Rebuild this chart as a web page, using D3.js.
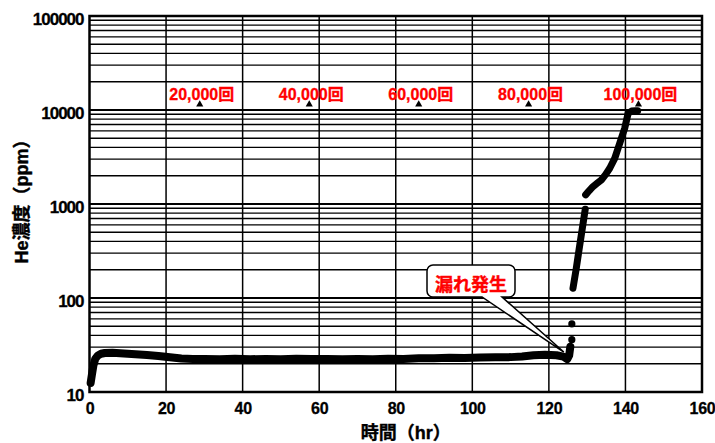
<!DOCTYPE html>
<html><head><meta charset="utf-8">
<script src="https://cdn.jsdelivr.net/npm/d3@7"></script>
<style>
body{margin:0;background:#fff}
svg{display:block}
text{font-family:"Liberation Sans",Arial,"Noto Sans CJK JP",sans-serif;font-weight:bold}
</style>
</head><body><svg id="c" width="715" height="443"></svg>
<script>
// ---- data ----
const mainTime = [0.3,0.6,1.0,1.5,2.2,3,4,6,9,12,15,18,21,24,27,30,34,38,42,46,50,54,58,62,66,70,74,78,82,86,90,94,98,102,106,110,113,116,119,122,123.8,124.8,125.3,125.6];
const mainHe   = [12.5,15,19,22.5,24.5,25.5,26,26.2,25.7,25.2,24.8,24.2,23.4,22.7,22.4,22.5,22.3,22.6,22.3,22.5,22.3,22.6,22.4,22.5,22.3,22.4,22.3,22.6,22.5,22.8,22.9,23.1,23.0,23.3,23.4,23.5,23.9,24.6,24.9,24.6,23.8,22.4,24.5,30.3];
const dotTime = [126.0,126.0];
const dotHe   = [36,53];
const riseTime = [126.3,127.1,127.9,128.7,129.5];
const riseHe   = [127,200,330,540,880];
const upperTime = [129.6,130.5,131.5,132.6,133.7,134.8,135.9,137.2,138.5,139.8,140.7,141.6,142.6,143.2];
const upperHe   = [1250,1380,1530,1660,1800,2050,2400,3060,4420,6380,9200,9750,9800,9800];
const cycleLabels = ["20,000回","40,000回","60,000回","80,000回","100,000回"];
const cycleTime = [28.8,57.4,86.0,114.7,143.4];
const cycleHe   = [11600,11600,11600,11600,11600];
const leakLabel = "漏れ発生";
const leakTime = 123.9, leakHe = 26.6;
const xTicks = [0,20,40,60,80,100,120,140,160];
const yTicks = [10,100,1000,10000,100000];
const xTitle = "時間（hr）";
const yTitle = "He濃度（ppm）";

// ---- chart ----
const svg = d3.select("#c");
const x = d3.scaleLinear().domain([0,160]).range([89.5,702]);
const y = d3.scaleLog().domain([10,100000]).range([392,16]);

const grid = svg.append("g");
grid.selectAll("line.v").data(xTicks.filter(t=>t>0&&t<160)).join("line")
  .attr("x1",d=>x(d)).attr("x2",d=>x(d)).attr("y1",y(100000)).attr("y2",y(10))
  .attr("stroke","#000").attr("stroke-width",1.5);
grid.selectAll("line.h").data(y.ticks().filter(v=>v>10&&v<100000)).join("line")
  .attr("x1",x(0)).attr("x2",x(160)).attr("y1",d=>y(d)).attr("y2",d=>y(d))
  .attr("stroke","#000").attr("stroke-width",d=>yTicks.includes(d)?1.8:1.4);

// axes labels
const ya = svg.append("g").attr("transform",`translate(${x(0)},0)`)
  .call(d3.axisLeft(y).tickValues(yTicks).tickFormat(d3.format("d")).tickSize(0).tickPadding(6));
ya.select(".domain").remove();
ya.selectAll("text").attr("font-size",17).attr("letter-spacing","-1px").attr("dy","0.5em")
  .style("font-family","'Liberation Sans',Arial,sans-serif").style("font-weight","bold")
  .attr("fill","#000").attr("stroke","#000").attr("stroke-width",0.3);

const xa = svg.append("g").attr("transform",`translate(0,${y(10)})`)
  .call(d3.axisBottom(x).tickValues(xTicks).tickSize(0).tickPadding(10.5));
xa.select(".domain").remove();
xa.selectAll("text").attr("font-size",16).attr("letter-spacing","-0.3px")
  .style("font-family","'Liberation Sans',Arial,sans-serif").style("font-weight","bold")
  .attr("fill","#000").attr("stroke","#000").attr("stroke-width",0.3);

// titles
svg.append("text").attr("x",(x(0)+x(160))/2+10).attr("y",439).attr("text-anchor","middle")
  .attr("font-size",18).attr("stroke","#000").attr("stroke-width",0.4).text(xTitle);
svg.append("text").attr("transform","translate(28,197) rotate(-90)").attr("text-anchor","middle")
  .attr("font-size",18).attr("stroke","#000").attr("stroke-width",0.4).text(yTitle);

// data lines
const line = d3.line().x(d=>x(d[0])).y(d=>y(d[1])).curve(d3.curveLinear);
const lineStyle = s => s.attr("fill","none").attr("stroke","#000").attr("stroke-linecap","round").attr("stroke-linejoin","round");
svg.append("path").datum(d3.zip(mainTime,mainHe)).attr("d",line).call(lineStyle).attr("stroke-width",8);
svg.append("path").datum(d3.zip(riseTime,riseHe)).attr("d",line).call(lineStyle).attr("stroke-width",7);
svg.append("path").datum(d3.zip(upperTime,upperHe)).attr("d",line).call(lineStyle).attr("stroke-width",7);
svg.selectAll("circle.dot").data(d3.zip(dotTime,dotHe)).join("circle")
  .attr("cx",d=>x(d[0])).attr("cy",d=>y(d[1])).attr("r",3.6).attr("fill","#000");

// frame
svg.append("rect").attr("x",x(0)).attr("y",y(100000)).attr("width",x(160)-x(0)).attr("height",y(10)-y(100000))
  .attr("fill","none").attr("stroke","#000").attr("stroke-width",2.5);

// cycle markers and labels
const cyc = d3.zip(cycleTime,cycleHe,cycleLabels);
svg.selectAll("path.tri").data(cyc).join("path")
  .attr("transform",d=>`translate(${x(d[0])},${y(d[1])+0.5})`)
  .attr("d",d3.symbol().type(d3.symbolTriangle).size(22)).attr("fill","#000");
svg.selectAll("text.cyc").data(cyc).join("text")
  .attr("x",d=>x(d[0])+2).attr("y",d=>y(d[1])-3.5).attr("text-anchor","middle")
  .attr("font-size",16).attr("fill","#ff0000").attr("stroke","#ff0000").attr("stroke-width",0.3).text(d=>d[2]);

// callout
const bx0=427, bx1=515, by0=265, by1=297, r=6, t0=482, t1=502;
const tx=x(leakTime), ty=y(leakHe);
const p = d3.path();
p.moveTo(bx0+r,by0); p.lineTo(bx1-r,by0); p.arcTo(bx1,by0,bx1,by0+r,r);
p.lineTo(bx1,by1-r); p.arcTo(bx1,by1,bx1-r,by1,r);
p.lineTo(t1,by1); p.lineTo(tx,ty); p.lineTo(t0,by1);
p.lineTo(bx0+r,by1); p.arcTo(bx0,by1,bx0,by1-r,r);
p.lineTo(bx0,by0+r); p.arcTo(bx0,by0,bx0+r,by0,r); p.closePath();
svg.append("path").attr("d",p.toString()).attr("fill","#fff").attr("stroke","#000").attr("stroke-width",1.5).attr("stroke-linejoin","miter");
svg.append("text").attr("x",(bx0+bx1)/2).attr("y",by1-6).attr("text-anchor","middle")
  .attr("font-size",18).attr("fill","#ff0000").attr("stroke","#ff0000").attr("stroke-width",0.4).text(leakLabel);
</script>
</body></html>
